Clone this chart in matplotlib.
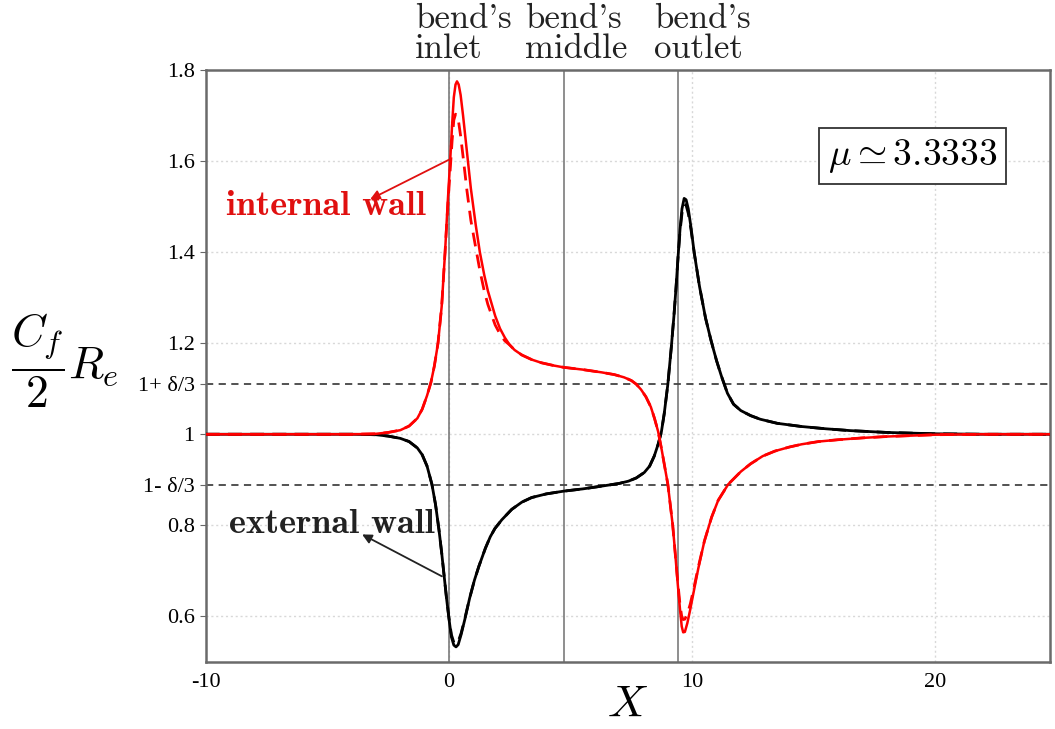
import matplotlib
matplotlib.use("Agg")
import matplotlib.pyplot as plt

plt.rcParams["mathtext.fontset"] = "cm"
plt.rcParams["axes.unicode_minus"] = False

# skin friction along the bend
# internal wall (red): solid = computed, dashed = reference
x_int = [-10, -4, -3, -2.5, -2.0, -1.64, -1.3, -1.1, -0.9, -0.74, -0.6, -0.45, -0.3, -0.16, -0.05,
         0.05, 0.13, 0.2, 0.27, 0.33, 0.4, 0.48, 0.58, 0.74, 0.9, 1.1, 1.27, 1.45, 1.6, 1.9, 2.1, 2.3,
         2.5, 2.7, 3.0, 3.4, 3.8, 4.3, 4.71, 5.5, 6.27, 6.8, 7.2, 7.5, 7.7, 7.9, 8.1, 8.3, 8.45, 8.6,
         8.75, 8.9, 9.0, 9.1, 9.2, 9.3, 9.4, 9.5, 9.57, 9.63, 9.7, 9.8, 9.92, 10.04, 10.25, 10.5, 10.8,
         11.07, 11.48, 12.0, 12.4, 12.9, 13.4, 14.0, 14.5, 15.2, 16, 17, 18, 19, 20, 22, 25]
y_int = [1.0, 1.0, 1.001, 1.004, 1.009, 1.018, 1.035, 1.055, 1.085, 1.114, 1.15, 1.20, 1.28, 1.40, 1.51,
         1.60, 1.68, 1.74, 1.768, 1.775, 1.768, 1.745, 1.70, 1.62, 1.54, 1.46, 1.40, 1.35, 1.315, 1.26, 1.232, 1.212,
         1.196, 1.185, 1.174, 1.164, 1.157, 1.151, 1.147, 1.142, 1.136, 1.131, 1.125, 1.118, 1.11, 1.098, 1.082, 1.06, 1.035, 1.006,
         0.965, 0.92, 0.89, 0.845, 0.80, 0.74, 0.675, 0.615, 0.578, 0.565, 0.566, 0.585, 0.615, 0.648, 0.705, 0.765, 0.818,
         0.855, 0.89, 0.918, 0.935, 0.952, 0.963, 0.972, 0.978, 0.984, 0.988, 0.992, 0.995, 0.997, 0.999, 1.0, 1.0]
y_int_ref = [1.0, 1.0, 1.001, 1.004, 1.009, 1.018, 1.035, 1.055, 1.085, 1.114, 1.15, 1.20, 1.28, 1.40, 1.50,
             1.58, 1.645, 1.69, 1.703, 1.70, 1.685, 1.655, 1.61, 1.535, 1.47, 1.41, 1.36, 1.315, 1.285, 1.24, 1.22, 1.205,
             1.196, 1.185, 1.174, 1.164, 1.157, 1.151, 1.147, 1.142, 1.136, 1.131, 1.125, 1.118, 1.11, 1.098, 1.082, 1.06, 1.035, 1.006,
             0.965, 0.92, 0.89, 0.845, 0.80, 0.74, 0.68, 0.625, 0.60, 0.593, 0.594, 0.605, 0.627, 0.655, 0.708, 0.765, 0.818,
             0.855, 0.89, 0.918, 0.935, 0.952, 0.963, 0.972, 0.978, 0.984, 0.988, 0.992, 0.995, 0.997, 0.999, 1.0, 1.0]

# external wall (black)
x_ext = [-10, -4, -3, -2.5, -2.0, -1.64, -1.3, -1.1, -0.9, -0.7, -0.55, -0.41, -0.3, -0.2, -0.1, 0.0,
         0.1, 0.2, 0.29, 0.38, 0.5, 0.66, 0.85, 1.05, 1.23, 1.5, 1.7, 1.89, 2.17, 2.58, 3.0, 3.4, 4.0,
         4.71, 5.5, 6.27, 7.0, 7.38, 7.7, 8.03, 8.25, 8.44, 8.6, 8.73, 8.85, 9.0, 9.14, 9.25, 9.34, 9.42,
         9.5, 9.58, 9.67, 9.75, 9.84, 9.95, 10.08, 10.3, 10.55, 10.78, 11.0, 11.2, 11.45, 11.7, 12.0,
         12.4, 12.8, 13.5, 14.5, 15.5, 16.5, 18, 20, 22, 25]
y_ext = [1.0, 1.0, 0.999, 0.996, 0.991, 0.984, 0.97, 0.955, 0.93, 0.89, 0.845, 0.79, 0.74, 0.69, 0.64, 0.595,
         0.555, 0.537, 0.533, 0.538, 0.56, 0.595, 0.64, 0.68, 0.71, 0.75, 0.775, 0.793, 0.812, 0.835, 0.851, 0.861, 0.869,
         0.875, 0.88, 0.886, 0.892, 0.897, 0.904, 0.916, 0.93, 0.952, 0.978, 1.004, 1.045, 1.11, 1.19, 1.26, 1.325, 1.39,
         1.45, 1.495, 1.518, 1.515, 1.495, 1.455, 1.40, 1.325, 1.255, 1.205, 1.162, 1.128, 1.09, 1.066, 1.052,
         1.041, 1.033, 1.024, 1.017, 1.012, 1.008, 1.004, 1.001, 1.0, 1.0]
y_ext_ref = [1.0, 1.0, 0.999, 0.996, 0.991, 0.984, 0.97, 0.955, 0.93, 0.89, 0.845, 0.79, 0.74, 0.69, 0.64, 0.597,
             0.56, 0.543, 0.54, 0.545, 0.563, 0.597, 0.64, 0.68, 0.71, 0.75, 0.775, 0.793, 0.812, 0.835, 0.851, 0.861, 0.869,
             0.875, 0.88, 0.886, 0.892, 0.897, 0.904, 0.916, 0.93, 0.952, 0.978, 1.004, 1.045, 1.11, 1.19, 1.26, 1.325, 1.39,
             1.445, 1.485, 1.505, 1.503, 1.485, 1.45, 1.40, 1.325, 1.255, 1.205, 1.162, 1.128, 1.09, 1.066, 1.052,
             1.041, 1.033, 1.024, 1.017, 1.012, 1.008, 1.004, 1.001, 1.0, 1.0]

bend_x = [0.0, 4.712, 9.425]
bend_labels = ["bend's\ninlet", "bend's\nmiddle", "bend's\noutlet"]
bend_label_x = [-1.39, 3.11, 8.44]
delta3 = 1.0 / 9.0

xticks = [-10, 0, 10, 20]
yticks = [0.6, 0.8, 1 - delta3, 1.0, 1 + delta3, 1.2, 1.4, 1.6, 1.8]
ytick_labels = ["0.6", "0.8", "1- \u03b4/3", "1", "1+ \u03b4/3", "1.2", "1.4", "1.6", "1.8"]
grid_y = [0.6, 0.8, 1.0, 1.2, 1.4, 1.6]
grid_x = [0, 10, 20]

fig = plt.figure(figsize=(10.55, 7.29), dpi=100)
ax = fig.add_axes([0.195, 0.092, 0.8, 0.812])
ax.set_xlim(-10, 24.7)
ax.set_ylim(0.5, 1.8)

for g in grid_y:
    ax.axhline(g, color="#d8d8d8", lw=1, ls=(0, (1.5, 2)), zorder=0)
for g in grid_x:
    ax.axvline(g, color="#d8d8d8", lw=1, ls=(0, (1.5, 2)), zorder=0)
for b in bend_x:
    ax.axvline(b, color="#707070", lw=1.1, zorder=1)
for h in (1 - delta3, 1 + delta3):
    ax.axhline(h, color="#444444", lw=1.3, ls=(0, (4, 3)), zorder=1)

ax.plot(x_ext, y_ext_ref, color="black", lw=2, ls=(0, (5, 3)), zorder=3)
ax.plot(x_ext, y_ext, color="black", lw=2, zorder=3)
ax.plot(x_int, y_int_ref, color="#ff0000", lw=2, ls=(0, (5, 3)), zorder=4)
ax.plot(x_int, y_int, color="#ff0000", lw=1.8, zorder=4)

ax.set_xticks(xticks)
ax.set_xticklabels([str(t) for t in xticks], fontfamily="Liberation Serif", fontsize=16)
ax.set_yticks(yticks)
ax.set_yticklabels(ytick_labels, fontfamily="Liberation Serif", fontsize=16)
ax.tick_params(axis="x", length=0, pad=8)
ax.tick_params(axis="y", length=4, direction="out", color="#666666", pad=4)
for s in ax.spines.values():
    s.set_color("#6a6a6a")
    s.set_linewidth(1.8)

ax.set_xlabel("$X$", fontsize=33, labelpad=-7)
ax.set_ylabel(r"$\dfrac{C_f}{2}R_e$", fontsize=33, rotation=0, labelpad=0)
ax.yaxis.set_label_coords(-0.167, 0.425)

for lx, lab in zip(bend_label_x, bend_labels):
    ax.text(lx, 1.008, lab, transform=ax.get_xaxis_transform(), ha="left", va="bottom",
            fontfamily="cmr10", fontsize=25, linespacing=0.95, color="#222222")

ax.text(19.06, 1.612, r"$\mu \simeq 3.3333$", fontsize=27, ha="center", va="center",
        bbox=dict(boxstyle="square,pad=0.24", fc="white", ec="#333333", lw=1.3), zorder=5)

# wall labels with arrows pointing back to the labels
ax.text(-5.08, 1.50, "internal wall", ha="center", va="center", fontfamily="cmb10",
        fontsize=26, color="#e01010", zorder=6)
ax.annotate("", xy=(-3.24, 1.516), xytext=(0.04, 1.604),
            arrowprops=dict(arrowstyle="-|>", color="#e01010", lw=1.3, shrinkA=0, shrinkB=0,
                            mutation_scale=14), zorder=6)
ax.text(-4.8, 0.802, "external wall", ha="center", va="center", fontfamily="cmb10",
        fontsize=26, color="#222222", zorder=6)
ax.annotate("", xy=(-3.57, 0.78), xytext=(-0.29, 0.688),
            arrowprops=dict(arrowstyle="-|>", color="#222222", lw=1.3, shrinkA=0, shrinkB=0,
                            mutation_scale=14), zorder=6)

fig.savefig("out.png", dpi=100)
